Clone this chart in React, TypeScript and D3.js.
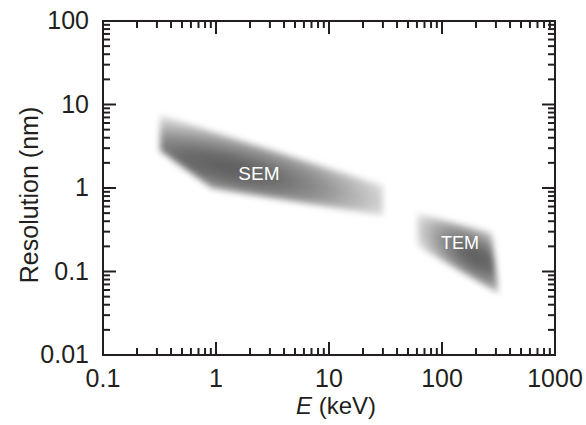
import React, { useEffect, useRef } from 'react';
import * as d3 from 'd3';

// axis ticks
const xTicks = [0.1, 1, 10, 100, 1000];
const xTickLabels = ['0.1', '1', '10', '100', '1000'];
const yTicks = [0.01, 0.1, 1, 10, 100];
const yTickLabels = ['0.01', '0.1', '1', '10', '100'];

// SEM region outline (energy keV, resolution nm)
const semE = [0.32, 0.32, 0.92, 30, 30];
const semRes = [7.5, 2.8, 0.99, 0.47, 1.07];

// TEM region outline
const temE = [60, 275, 315, 61];
const temRes = [0.5, 0.29, 0.055, 0.2];

// region labels and shading centres
const regionNames = ['SEM', 'TEM'];
const labelE = [2.4, 144];
const labelRes = [1.5, 0.22];
const shadeE = [1.3, 200];
const shadeRes = [1.75, 0.15];

const W = 586;
const H = 425;
const margin = { top: 21, right: 31, bottom: 70, left: 103 };
const INK = '#231f20';
const FONT = '"Liberation Sans", Arial, Helvetica, sans-serif';

const App = () => {
  const ref = useRef<SVGSVGElement | null>(null);

  useEffect(() => {
    const svg = d3.select(ref.current);
    svg.selectAll('*').remove();

    const x = d3.scaleLog().domain([0.1, 1000]).range([margin.left, W - margin.right]);
    const y = d3.scaleLog().domain([0.01, 100]).range([H - margin.bottom, margin.top]);
    const x0 = x.range()[0], x1 = x.range()[1];
    const y0 = y.range()[0], y1 = y.range()[1];

    const defs = svg.append('defs');
    defs.append('filter')
      .attr('id', 'soft')
      .attr('x', '-20%').attr('y', '-20%')
      .attr('width', '140%').attr('height', '140%')
      .append('feGaussianBlur')
      .attr('stdDeviation', 3);

    // elongated radial shading per region
    const shapes = [
      { e: semE, r: semRes, angle: 13, rx: 195, ry: 44 },
      { e: temE, r: temRes, angle: 32, rx: 80, ry: 36 },
    ];
    const stops = [
      [0, '#5e5e5e'], [0.25, '#6c6c6c'], [0.5, '#929292'], [0.75, '#c6c6c6'], [1, '#fafafa'],
    ];

    shapes.forEach((s, i) => {
      const cx = x(shadeE[i]);
      const cy = y(shadeRes[i]);
      const g = defs.append('radialGradient')
        .attr('id', `shade${i}`)
        .attr('gradientUnits', 'userSpaceOnUse')
        .attr('cx', 0).attr('cy', 0).attr('r', 1)
        .attr('gradientTransform', `translate(${cx},${cy}) rotate(${s.angle}) scale(${s.rx},${s.ry})`);
      stops.forEach(([o, c]) => g.append('stop').attr('offset', o).attr('stop-color', c));

      const pts = s.e.map((e, k) => [x(e), y(s.r[k])] as [number, number]);
      svg.append('path')
        .attr('d', d3.line()(pts) + 'Z')
        .attr('fill', `url(#shade${i})`)
        .attr('filter', 'url(#soft)');
    });

    // region labels
    regionNames.forEach((name, i) => {
      svg.append('text')
        .attr('x', x(labelE[i]))
        .attr('y', y(labelRes[i]))
        .attr('text-anchor', 'middle')
        .attr('dy', '0.36em')
        .attr('fill', 'white')
        .style('font-family', FONT)
        .style('font-size', i === 0 ? '19px' : '18px')
        .text(name);
    });

    // frame
    svg.append('rect')
      .attr('x', x0).attr('y', y1)
      .attr('width', x1 - x0).attr('height', y0 - y1)
      .attr('fill', 'none')
      .attr('stroke', INK)
      .attr('stroke-width', 2);

    // inward ticks, major + minor
    const minor = (lo: number, hi: number) => {
      const out: number[] = [];
      for (let p = lo; p < hi; p *= 10) {
        for (let m = 2; m <= 9; m++) out.push(p * m);
      }
      return out;
    };
    const majorLen = 13, minorLen = 7;
    const ticks = svg.append('g').attr('stroke', INK).attr('stroke-width', 2);

    const xAll = [...xTicks.map(v => [v, majorLen]), ...minor(0.1, 1000).map(v => [v, minorLen])];
    xAll.forEach(([v, len]) => {
      ticks.append('line').attr('x1', x(v)).attr('x2', x(v)).attr('y1', y0).attr('y2', y0 - len);
      ticks.append('line').attr('x1', x(v)).attr('x2', x(v)).attr('y1', y1).attr('y2', y1 + len);
    });
    const yAll = [...yTicks.map(v => [v, majorLen]), ...minor(0.01, 100).map(v => [v, minorLen])];
    yAll.forEach(([v, len]) => {
      ticks.append('line').attr('y1', y(v)).attr('y2', y(v)).attr('x1', x0).attr('x2', x0 + len);
      ticks.append('line').attr('y1', y(v)).attr('y2', y(v)).attr('x1', x1).attr('x2', x1 - len);
    });

    // tick labels
    xTicks.forEach((v, i) => {
      svg.append('text')
        .attr('x', x(v))
        .attr('y', y0 + 32)
        .attr('text-anchor', 'middle')
        .attr('fill', INK)
        .style('font-family', FONT)
        .style('font-size', '25px')
        .text(xTickLabels[i]);
    });
    yTicks.forEach((v, i) => {
      svg.append('text')
        .attr('x', x0 - 14)
        .attr('y', y(v) + 8)
        .attr('text-anchor', 'end')
        .attr('fill', INK)
        .style('font-family', FONT)
        .style('font-size', '25px')
        .text(yTickLabels[i]);
    });

    // axis titles
    const xt = svg.append('text')
      .attr('x', (x0 + x1) / 2 + 7)
      .attr('y', y0 + 59)
      .attr('text-anchor', 'middle')
      .attr('fill', INK)
      .style('font-family', FONT)
      .style('font-size', '24px');
    xt.append('tspan').style('font-style', 'italic').text('E');
    xt.append('tspan').text(' (keV)');

    svg.append('text')
      .attr('transform', `translate(38, ${(y0 + y1) / 2 + 7}) rotate(-90)`)
      .attr('text-anchor', 'middle')
      .attr('fill', INK)
      .style('font-family', FONT)
      .style('font-size', '25px')
      .text('Resolution (nm)');
  }, []);

  return (
    <svg
      ref={ref}
      width={W}
      height={H}
      style={{ position: 'absolute', left: 0, top: 0, background: 'white' }}
    />
  );
};

export default App;
